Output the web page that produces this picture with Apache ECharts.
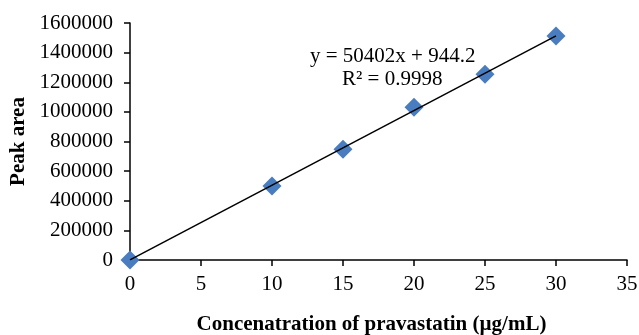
<!DOCTYPE html>
<html><head><meta charset="utf-8">
<script src="https://cdn.jsdelivr.net/npm/echarts@6/dist/echarts.min.js"></script>
<style>html,body{margin:0;padding:0;background:#fff}#c{width:639px;height:335px}</style>
</head><body><div id="c"></div>
<script>
const concentration = [0, 10, 15, 20, 25, 30];
const peakArea = [0, 500000, 747000, 1031000, 1254000, 1512000];
const trendX = [0, 30];
const trendY = [944.2, 1513004.2];
const equationLines = ['y = 50402x + 944.2', 'R² = 0.9998'];
const xTitle = 'Concenatration of pravastatin (µg/mL)';
const yTitle = 'Peak area';

const font = '"Liberation Serif","Times New Roman",serif';
const fs = 21;
const chart = echarts.init(document.getElementById('c'), null, {renderer: 'canvas'});
chart.setOption({
  animation: false,
  grid: {left: 130, right: 12, top: 23, bottom: 75, containLabel: false, outerBoundsMode: 'none'},
  xAxis: {
    type: 'value', min: 0, max: 35, interval: 5,
    name: xTitle, nameLocation: 'middle', nameGap: 54,
    nameTextStyle: {fontFamily: font, fontSize: fs, fontWeight: 'bold', color: '#000', padding: [0, 14, 0, 0]},
    axisLine: {show: true, lineStyle: {color: '#000', width: 1.5}},
    axisTick: {show: true, inside: false, length: 6, lineStyle: {color: '#000', width: 1.5}},
    axisLabel: {fontFamily: font, fontSize: fs, color: '#000', margin: 14, formatter: v => String(v)},
    splitLine: {show: false}
  },
  yAxis: {
    type: 'value', min: 0, max: 1600000, interval: 200000,
    name: yTitle, nameLocation: 'middle', nameGap: 101, nameRotate: 90,
    nameTextStyle: {fontFamily: font, fontSize: fs, fontWeight: 'bold', color: '#000'},
    axisLine: {show: true, lineStyle: {color: '#000', width: 1.5}},
    axisTick: {show: true, inside: false, length: 6, lineStyle: {color: '#000', width: 1.5}},
    axisLabel: {fontFamily: font, fontSize: fs, color: '#000', margin: 17, formatter: v => String(v)},
    splitLine: {show: false}
  },
  series: [
    {
      type: 'line', data: trendX.map((x, i) => [x, trendY[i]]),
      symbol: 'none', lineStyle: {color: '#000', width: 1.5}, z: 3
    },
    {
      type: 'scatter', data: concentration.map((x, i) => [x, peakArea[i]]),
      symbol: 'diamond', symbolSize: 19,
      itemStyle: {color: '#4a7dbf', opacity: 1}, z: 2
    }
  ],
  graphic: [
    {type: 'text', left: 310, top: 46, style: {text: equationLines[0], font: fs + 'px ' + font, fill: '#000'}},
    {type: 'text', left: 342, top: 69, style: {text: equationLines[1], font: fs + 'px ' + font, fill: '#000'}}
  ]
});
</script></body></html>
